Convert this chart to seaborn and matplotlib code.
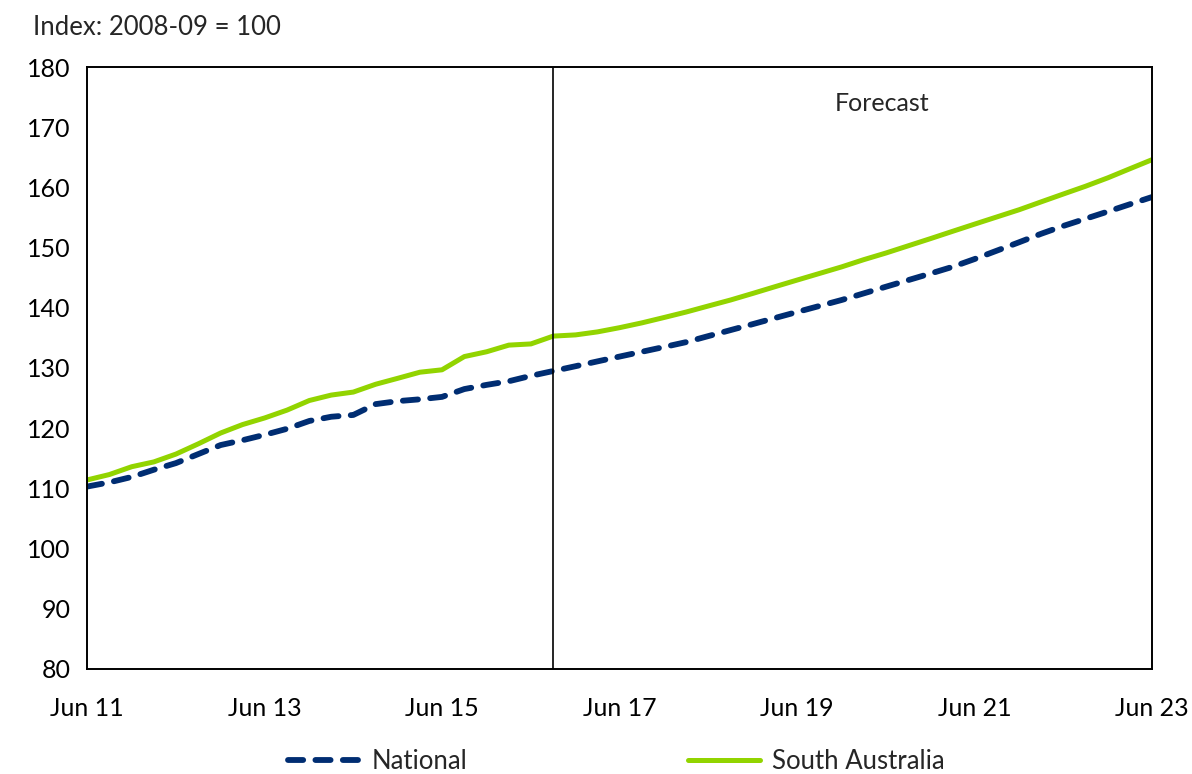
import matplotlib
matplotlib.use("Agg")
import matplotlib.pyplot as plt
import matplotlib.dates as mdates
import pandas as pd
import seaborn as sns

# quarterly index values, Jun 2011 to Jun 2023 (2008-09 = 100)
quarters = pd.date_range("2011-06-30", periods=49, freq="3ME")

national = [
    110.3, 111.0, 111.9, 113.1, 114.2, 115.7, 117.2, 118.0, 118.9, 119.9,
    121.2, 121.9, 122.2, 124.0, 124.5, 124.8, 125.2, 126.5, 127.2, 127.8,
    128.7, 129.5, 130.3, 131.1, 131.9, 132.7, 133.5, 134.3, 135.3, 136.3,
    137.3, 138.3, 139.3, 140.3, 141.3, 142.4, 143.5, 144.6, 145.7, 146.8,
    148.1, 149.5, 150.9, 152.3, 153.6, 154.8, 156.0, 157.2, 158.4,
]
south_australia = [
    111.4, 112.3, 113.6, 114.4, 115.7, 117.4, 119.2, 120.6, 121.7, 123.0,
    124.6, 125.5, 126.0, 127.3, 128.3, 129.3, 129.7, 131.9, 132.7, 133.8,
    134.0, 135.3, 135.5, 136.0, 136.7, 137.5, 138.4, 139.3, 140.3, 141.3,
    142.4, 143.5, 144.6, 145.7, 146.8, 148.0, 149.1, 150.3, 151.5, 152.7,
    153.9, 155.1, 156.3, 157.6, 158.9, 160.2, 161.6, 163.1, 164.6,
]
forecast_start = pd.Timestamp("2016-09-30")
tick_dates = pd.date_range("2011-06-30", periods=7, freq="24ME")

df = pd.DataFrame({"date": quarters, "National": national,
                   "South Australia": south_australia})

sns.set_style("white")
plt.rcParams["font.family"] = ["Lato", "DejaVu Sans"]

fig = plt.figure(figsize=(11.92, 7.74), dpi=100)
ax = fig.add_axes([0.073, 0.1357, 0.8934, 0.7777])

sns.lineplot(data=df, x="date", y="National", ax=ax, color="#002D72",
             linewidth=4.2, linestyle=(0, (2.6, 2.1)), dash_capstyle="round",
             label="National", legend=False)
sns.lineplot(data=df, x="date", y="South Australia", ax=ax, color="#92D400",
             linewidth=3.6, label="South Australia", legend=False)

ax.axvline(forecast_start, color="black", linewidth=1.2)
ax.text(pd.Timestamp("2020-06-15"), 174, "Forecast", ha="center",
        va="center", fontsize=18)

ax.set_xlim(quarters[0], quarters[-1])
ax.set_ylim(80, 180)
ax.set_yticks(range(80, 181, 10))
ax.set_xticks(tick_dates)
ax.xaxis.set_major_formatter(mdates.DateFormatter("Jun %y"))
ax.set_xlabel("")
ax.set_ylabel("")
ax.tick_params(axis="both", direction="in", length=7, width=1.2,
               labelsize=18, colors="black")
ax.tick_params(axis="x", pad=20)
ax.tick_params(axis="y", pad=12)
for s in ax.spines.values():
    s.set_color("black")
    s.set_linewidth(1.4)

fig.text(0.028, 0.965, "Index: 2008-09 = 100", fontsize=18.5, va="center")

handles, labels = ax.get_legend_handles_labels()
fig.legend(handles, labels, loc="center", bbox_to_anchor=(0.517, 0.016),
           ncol=2, frameon=False, fontsize=18.5, handlelength=2.8,
           columnspacing=8.6, handletextpad=0.45)

fig.savefig("out.png", dpi=100)
